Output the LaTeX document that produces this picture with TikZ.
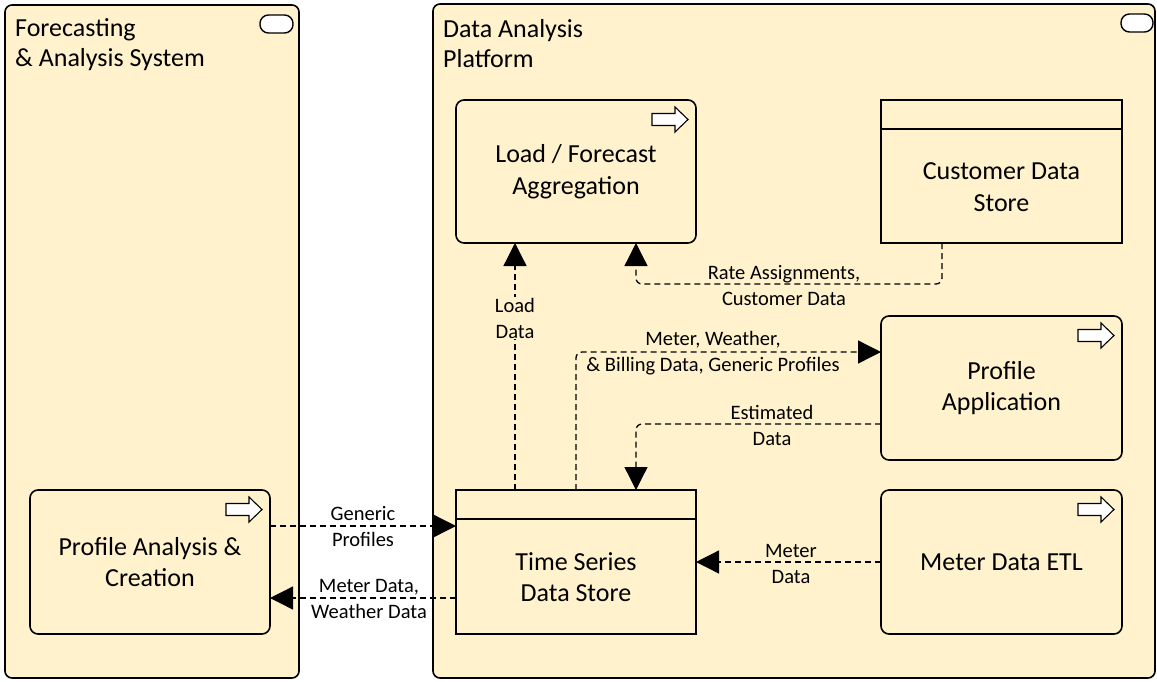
\documentclass[tikz,border=0pt]{standalone}
\usepackage{fontspec}
\setmainfont{Carlito}
\usetikzlibrary{arrows.meta}
\definecolor{fillc}{RGB}{255,242,204}
\begin{document}
\begin{tikzpicture}[x=1pt,y=-1pt,
  grp/.style={draw=black, line width=1.6pt, fill=fillc, rounded corners=7pt, inner sep=0pt, outer sep=0pt},
  comp/.style={draw=black, line width=1.6pt, fill=fillc, rounded corners=8pt, inner sep=0pt, outer sep=0pt,
     font=\fontsize{26}{31.5}\selectfont, align=center},
  store/.style={draw=black, line width=1.6pt, fill=fillc, inner sep=0pt, outer sep=0pt},
  ntext/.style={font=\fontsize{26}{31.5}\selectfont, align=center, inner sep=0pt},
  gtitle/.style={font=\fontsize{26}{31.5}\selectfont, anchor=base west, inner sep=0pt},
  flow/.style={dash pattern=on 6pt off 4pt, line width=1.3pt, rounded corners=6pt,
     -{Triangle[length=23pt,width=23pt]}},
  lbl/.style={font=\fontsize{20.5}{26}\selectfont, align=center, inner sep=0pt},
  oval/.style={draw=black, line width=1.4pt, fill=white, rounded corners=8.5pt},
  procarrow/.pic={\draw[line width=1.1pt, fill=white, line join=miter]
     (-36,-6) -- (-13,-6) -- (-13,-12.5) -- (0,0) -- (-13,12.5) -- (-13,6) -- (-36,6) -- cycle;}
]
\useasboundingbox[fill=white] (0,0) rectangle (1157,681);

% groups
\node[grp, minimum width=294, minimum height=673] (g1) at (152,341.5) {};
\node[grp, minimum width=722, minimum height=674] (g2) at (794,341) {};
\draw[oval] (260,15) rectangle (293,33);
\draw[oval] (1121,14) rectangle (1153,32);
\node[gtitle] (g1t1) at (15,36) {Forecasting};
\node[gtitle] (g1t2) at (15,66) {\& Analysis System};
\node[gtitle] (g2t1) at (443,37) {Data Analysis};
\node[gtitle] (g2t2) at (443,67) {Platform};

% nodes
\node[comp, minimum width=240, minimum height=143] (lfa) at (576,171.5) {Load / Forecast\\Aggregation};
\pic at ([xshift=-8pt,yshift=-19.5pt]lfa.north east) {procarrow};

\node[store, minimum width=241, minimum height=143] (cds) at (1001.5,171.5) {};
\draw[line width=1.6pt] ([yshift=-29pt]cds.north west) -- ([yshift=-29pt]cds.north east);
\node[ntext] (cdst) at (1001.5,187) {Customer Data\\Store};

\node[comp, minimum width=241, minimum height=144] (pa) at (1001.5,388) {Profile\\Application};
\pic at ([xshift=-8pt,yshift=-19.5pt]pa.north east) {procarrow};

\node[comp, minimum width=241, minimum height=144] (etl) at (1001.5,562) {Meter Data ETL};
\pic at ([xshift=-8pt,yshift=-19.5pt]etl.north east) {procarrow};

\node[store, minimum width=240, minimum height=144] (ts) at (576,562) {};
\draw[line width=1.6pt] ([yshift=-29pt]ts.north west) -- ([yshift=-29pt]ts.north east);
\node[ntext] (tst) at (576,577) {Time Series\\Data Store};

\node[comp, minimum width=240, minimum height=144] (pac) at (150,562) {Profile Analysis \&\\Creation};
\pic at ([xshift=-8pt,yshift=-19.5pt]pac.north east) {procarrow};

% connectors
\draw[flow] ([xshift=59pt]ts.north west) -- ([xshift=59pt]lfa.south west);
\node[lbl, fill=fillc, inner sep=1pt] (l1) at (515,318) {Load\\Data};

\draw[flow] ([xshift=61pt]cds.south west) -- ++(0,41) -| ([xshift=180pt]lfa.south west);
\node[lbl] (l2) at (784,286) {Rate Assignments,\\Customer Data};

\draw[flow] ([xshift=120pt]ts.north west) |- ([yshift=36pt]pa.west);
\node[lbl] (l3) at (713,353.5) {Meter, Weather,\\\& Billing Data, Generic Profiles};

\draw[flow] ([yshift=-36pt]pa.west) -| ([xshift=180pt]ts.north west);
\node[lbl] (l4) at (772,425) {Estimated\\Data};

\draw[flow] ([yshift=36pt]pac.east) -- ([yshift=36pt]ts.west);
\node[lbl] (l5) at (363,527) {Generic\\Profiles};

\draw[flow] ([yshift=-36pt]ts.west) -- ([yshift=-36pt]pac.east);
\node[lbl] (l6) at (369,599) {Meter Data,\\Weather Data};

\draw[flow] (etl.west) -- (ts.east);
\node[lbl] (l7) at (791,563.5) {Meter\\Data};
\end{tikzpicture}
\end{document}
